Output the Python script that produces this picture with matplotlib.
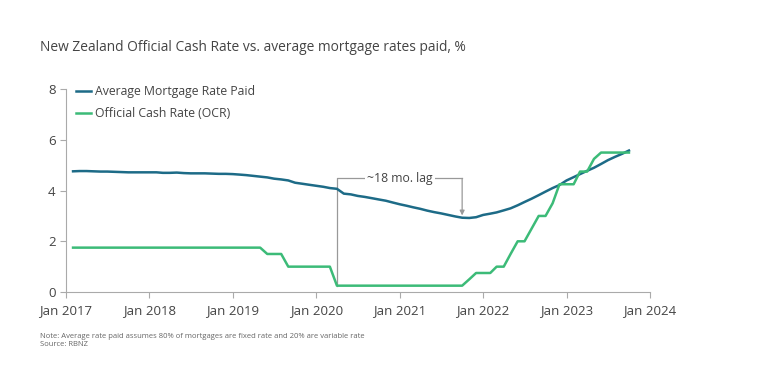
import matplotlib.pyplot as plt
import numpy as np
import pandas as pd

plt.rcParams['font.family'] = ['Open Sans', 'DejaVu Sans']

# monthly points, Feb 2017 .. Oct 2023
months = pd.date_range('2017-02-01', '2023-10-01', freq='MS')

mortgage = [4.76, 4.77, 4.77, 4.76, 4.75, 4.75, 4.74, 4.73, 4.72, 4.72, 4.72, 4.72,
            4.72, 4.70, 4.70, 4.71, 4.69, 4.68, 4.68, 4.68, 4.67, 4.66, 4.66, 4.65,
            4.63, 4.61, 4.58, 4.55, 4.52, 4.47, 4.44, 4.40, 4.31, 4.27, 4.23, 4.19,
            4.15, 4.10, 4.07, 3.88, 3.85, 3.79, 3.75, 3.70, 3.65, 3.60, 3.53, 3.46,
            3.40, 3.34, 3.28, 3.21, 3.15, 3.10, 3.04, 2.98, 2.93, 2.92, 2.95, 3.04,
            3.09, 3.14, 3.22, 3.30, 3.42, 3.55, 3.68, 3.82, 3.96, 4.10, 4.22, 4.40,
            4.53, 4.65, 4.78, 4.90, 5.05, 5.20, 5.33, 5.45, 5.58]

ocr = [1.75] * 28 + [1.5] * 3 + [1.0] * 7 + [0.25] * 19 + \
      [0.5, 0.75, 0.75, 0.75, 1.0, 1.0, 1.5, 2.0, 2.0, 2.5, 3.0, 3.0, 3.5,
       4.25, 4.25, 4.25, 4.75, 4.75, 5.25, 5.5, 5.5, 5.5, 5.5, 5.5]

blue = '#1d6b87'
green = '#3cbb78'
grey = '#999999'
txt = '#444444'

fig = plt.figure(figsize=(7.68, 3.86), dpi=100)
ax = fig.add_axes([0.0859, 0.2435, 0.7604, 0.5255])

ax.plot(months, mortgage, color=blue, lw=1.8, label='Average Mortgage Rate Paid')
ax.plot(months, ocr, color=green, lw=1.8, label='Official Cash Rate (OCR)')

# lag bracket
start = pd.Timestamp('2020-04-01')
end = pd.Timestamp('2021-10-01')
top = 4.48
ax.plot([start, start, end], [0.25, top, top], color=grey, lw=0.9, zorder=1)
ax.annotate('', xy=(end, 3.02), xytext=(end, top),
            arrowprops=dict(arrowstyle='-|>', color=grey, lw=0.9, mutation_scale=7,
                            shrinkA=0, shrinkB=0))
ax.text(pd.Timestamp('2021-01-01'), top, '~18 mo. lag', ha='center', va='center',
        fontsize=8.8, color=txt, bbox=dict(facecolor='white', edgecolor='none', pad=1.5))

ax.set_xlim(pd.Timestamp('2017-01-01'), pd.Timestamp('2024-01-01'))
ax.set_ylim(0, 8)
ax.set_yticks([0, 2, 4, 6, 8])
years = pd.date_range('2017-01-01', '2024-01-01', freq='YS')
ax.set_xticks(years)
ax.set_xticklabels(['Jan %d' % y.year for y in years])

for s in ['top', 'right']:
    ax.spines[s].set_visible(False)
for s in ['left', 'bottom']:
    ax.spines[s].set_color('#aaaaaa')
    ax.spines[s].set_linewidth(0.8)
ax.tick_params(colors='#aaaaaa', labelcolor=txt, labelsize=9.5, length=4, width=0.8)
ax.tick_params(axis='x', pad=5)

leg = ax.legend(loc='upper left', bbox_to_anchor=(0.008, 1.045), frameon=False,
                fontsize=8.8, handlelength=1.3, handletextpad=0.3, labelspacing=0.75,
                borderaxespad=0)
for t in leg.get_texts():
    t.set_color(txt)

fig.text(0.052, 0.878, 'New Zealand Official Cash Rate vs. average mortgage rates paid, %',
         fontsize=9.9, color=txt, va='center')
fig.text(0.052, 0.118, 'Note: Average rate paid assumes 80% of mortgages are fixed rate and 20% are variable rate\nSource: RBNZ',
         fontsize=5.5, color='#666666', va='center', linespacing=1.1)

fig.savefig('out.png', dpi=100)
